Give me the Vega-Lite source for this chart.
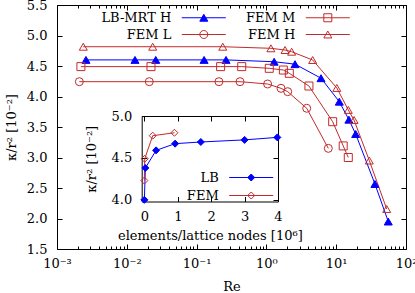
{
  "$schema": "https://vega.github.io/schema/vega-lite/v6.json",
  "width": 349,
  "height": 244,
  "autosize": {"type": "none"},
  "padding": {"left": 57, "top": 5, "right": 9, "bottom": 44},
  "background": "white",
  "config": {
    "view": {"stroke": null},
    "axis": {
      "domainColor": "#000", "tickColor": "#000", "labelColor": "#000", "titleColor": "#000",
      "labelFont": "DejaVu Serif", "labelFontSize": 13, "titleFont": "DejaVu Serif", "titleFontSize": 13,
      "titleFontWeight": "normal", "grid": false, "domainWidth": 1, "tickWidth": 1,
      "labelFlush": false, "labelOverlap": false, "labelBound": false, "tickSize": -5
    },
    "legend": {
      "labelFont": "DejaVu Serif", "labelFontSize": 13, "labelColor": "#000",
      "symbolSize": 64, "symbolStrokeWidth": 1, "padding": 0, "rowPadding": 3,
      "labelAlign": "right", "labelOffset": -39, "labelLimit": 300, "symbolOffset": 0
    }
  },
  "datasets": {
    "main": [
      {"series": "LB-MRT H", "Re": 0.0026, "k": 4.6},
      {"series": "LB-MRT H", "Re": 0.0131, "k": 4.6},
      {"series": "LB-MRT H", "Re": 0.026, "k": 4.6},
      {"series": "LB-MRT H", "Re": 0.128, "k": 4.6},
      {"series": "LB-MRT H", "Re": 0.264, "k": 4.6},
      {"series": "LB-MRT H", "Re": 1.29, "k": 4.57},
      {"series": "LB-MRT H", "Re": 2.57, "k": 4.53},
      {"series": "LB-MRT H", "Re": 6.06, "k": 4.3},
      {"series": "LB-MRT H", "Re": 11.07, "k": 3.915},
      {"series": "LB-MRT H", "Re": 15.2, "k": 3.62},
      {"series": "LB-MRT H", "Re": 19.0, "k": 3.385},
      {"series": "LB-MRT H", "Re": 35.9, "k": 2.566},
      {"series": "LB-MRT H", "Re": 55.7, "k": 1.95},
      {"series": "FEM H", "Re": 0.00238, "k": 4.816},
      {"series": "FEM H", "Re": 0.0235, "k": 4.816},
      {"series": "FEM H", "Re": 0.237, "k": 4.816},
      {"series": "FEM H", "Re": 1.16, "k": 4.79},
      {"series": "FEM H", "Re": 1.85, "k": 4.762},
      {"series": "FEM H", "Re": 2.3, "k": 4.734},
      {"series": "FEM H", "Re": 4.6, "k": 4.598},
      {"series": "FEM H", "Re": 10.2, "k": 4.14},
      {"series": "FEM H", "Re": 14.9, "k": 3.78},
      {"series": "FEM H", "Re": 18.0, "k": 3.615},
      {"series": "FEM H", "Re": 29.8, "k": 2.95},
      {"series": "FEM H", "Re": 52.9, "k": 2.156},
      {"series": "FEM M", "Re": 0.0022, "k": 4.49},
      {"series": "FEM M", "Re": 0.0222, "k": 4.49},
      {"series": "FEM M", "Re": 0.221, "k": 4.49},
      {"series": "FEM M", "Re": 0.443, "k": 4.49},
      {"series": "FEM M", "Re": 1.1, "k": 4.462},
      {"series": "FEM M", "Re": 1.75, "k": 4.434},
      {"series": "FEM M", "Re": 2.13, "k": 4.38},
      {"series": "FEM M", "Re": 4.07, "k": 4.172},
      {"series": "FEM M", "Re": 8.9, "k": 3.587},
      {"series": "FEM M", "Re": 12.6, "k": 3.19},
      {"series": "FEM M", "Re": 14.9, "k": 3.0},
      {"series": "FEM L", "Re": 0.00209, "k": 4.243},
      {"series": "FEM L", "Re": 0.021, "k": 4.243},
      {"series": "FEM L", "Re": 0.209, "k": 4.243},
      {"series": "FEM L", "Re": 0.419, "k": 4.243},
      {"series": "FEM L", "Re": 1.04, "k": 4.205},
      {"series": "FEM L", "Re": 1.62, "k": 4.134},
      {"series": "FEM L", "Re": 2.02, "k": 4.079},
      {"series": "FEM L", "Re": 3.78, "k": 3.807},
      {"series": "FEM L", "Re": 7.71, "k": 3.15}
    ],
    "inset": [
      {"series": "LB", "n": 0.0, "k": 4.0},
      {"series": "LB", "n": 0.03, "k": 4.38},
      {"series": "LB", "n": 0.35, "k": 4.59},
      {"series": "LB", "n": 0.92, "k": 4.67},
      {"series": "LB", "n": 1.69, "k": 4.69},
      {"series": "LB", "n": 3.0, "k": 4.715},
      {"series": "LB", "n": 3.98, "k": 4.745},
      {"series": "FEM", "n": 0.0, "k": 4.23},
      {"series": "FEM", "n": 0.01, "k": 4.49},
      {"series": "FEM", "n": 0.25, "k": 4.765},
      {"series": "FEM", "n": 0.9, "k": 4.8}
    ]
  },
  "resolve": {"scale": {"x": "independent", "y": "independent"}, "axis": {"x": "independent", "y": "independent"}},
  "layer": [
    {
      "data": {"name": "main"},
      "resolve": {
        "scale": {"color": "independent", "stroke": "independent", "fill": "independent", "shape": "independent"},
        "axis": {"x": "independent", "y": "independent"}
      },
      "layer": [
        {
          "mark": {"type": "line", "strokeWidth": 1},
          "encoding": {
            "x": {"field": "Re", "type": "quantitative", "scale": {"type": "log", "domain": [0.001, 100]},
              "axis": {"orient": "bottom", "values": [0.001, 0.01, 0.1, 1, 10, 100],
                "labelExpr": "['10⁻³','10⁻²','10⁻¹','10⁰','10¹','10²'][round(log(datum.value)/LN10)+3]",
                "labelPadding": 13, "title": "Re", "titlePadding": 10}},
            "y": {"field": "k", "type": "quantitative", "scale": {"domain": [1.5, 5.5], "nice": false, "zero": false},
              "axis": {"orient": "left", "values": [1.5, 2, 2.5, 3, 3.5, 4, 4.5, 5, 5.5], "format": ".1f",
                "labelPadding": 15, "title": "κ/r² [10⁻²]", "titlePadding": 8}},
            "color": {"field": "series", "type": "nominal",
              "scale": {"domain": ["LB-MRT H", "FEM L", "FEM M", "FEM H"], "range": ["#0000ff", "#c22b2b", "#c22b2b", "#c22b2b"]},
              "legend": null}
          }
        },
        {
          "mark": {"type": "point", "size": 64, "strokeWidth": 1, "opacity": 1},
          "encoding": {
            "x": {"field": "Re", "type": "quantitative", "scale": {"type": "log", "domain": [0.001, 100]},
              "axis": {"orient": "bottom", "values": [0.002,0.003,0.004,0.005,0.006,0.007,0.008,0.009,0.02,0.03,0.04,0.05,0.06,0.07,0.08,0.09,0.2,0.3,0.4,0.5,0.6,0.7,0.8,0.9,2,3,4,5,6,7,8,9,20,30,40,50,60,70,80,90],
                "labels": false, "domain": false, "tickSize": -3, "title": null}},
            "y": {"field": "k", "type": "quantitative", "scale": {"domain": [1.5, 5.5], "nice": false, "zero": false}, "axis": null},
            "stroke": {"field": "series", "type": "nominal",
              "scale": {"domain": ["LB-MRT H", "FEM L", "FEM M", "FEM H"], "range": ["#0000ff", "#c22b2b", "#c22b2b", "#c22b2b"]}, "legend": null},
            "fill": {"field": "series", "type": "nominal",
              "scale": {"domain": ["LB-MRT H", "FEM L", "FEM M", "FEM H"], "range": ["#0000ff", "transparent", "transparent", "transparent"]}, "legend": null},
            "shape": {"field": "series", "type": "nominal",
              "scale": {"domain": ["LB-MRT H", "FEM L", "FEM M", "FEM H"], "range": ["triangle-up", "circle", "square", "triangle-up"]}, "legend": null}
          }
        },
        {
          "mark": {"type": "point", "size": 64, "strokeWidth": 1, "opacity": 0},
          "encoding": {
            "x": {"field": "Re", "type": "quantitative", "scale": {"type": "log", "domain": [0.001, 100]},
              "axis": {"orient": "top", "values": [0.001, 0.01, 0.1, 1, 10, 100], "labels": false, "title": null}},
            "y": {"field": "k", "type": "quantitative", "scale": {"domain": [1.5, 5.5], "nice": false, "zero": false},
              "axis": {"orient": "right", "values": [1.5, 2, 2.5, 3, 3.5, 4, 4.5, 5, 5.5], "labels": false, "title": null}},
            "stroke": {"field": "series", "type": "nominal",
              "scale": {"domain": ["LB-MRT H", "FEM L", "FEM M", "FEM H"], "range": ["#0000ff", "#c22b2b", "#c22b2b", "#c22b2b"]},
              "legend": {"title": null, "orient": "none", "legendX": 140.3, "legendY": 6, "columns": 2, "columnPadding": -7, "symbolOpacity": 1}},
            "fill": {"field": "series", "type": "nominal",
              "scale": {"domain": ["LB-MRT H", "FEM L", "FEM M", "FEM H"], "range": ["#0000ff", "transparent", "transparent", "transparent"]},
              "legend": {"title": null, "orient": "none", "legendX": 140.3, "legendY": 6, "columns": 2, "columnPadding": -7, "symbolOpacity": 1}},
            "shape": {"field": "series", "type": "nominal",
              "scale": {"domain": ["LB-MRT H", "FEM L", "FEM M", "FEM H"],
                "range": ["M-26,0M-5.5,0H5.5M0,-0.866L1,0.866L-1,0.866Z", "M-26,0M-5.5,0H5.5M1,0A1,1,0,0,1,0,1A1,1,0,0,1,-1,0A1,1,0,0,1,0,-1A1,1,0,0,1,1,0Z", "M-26,0M-5.5,0H5.5M-1,-1H1V1H-1Z", "M-26,0M-5.5,0H5.5M0,-0.866L1,0.866L-1,0.866Z"]},
              "legend": {"title": null, "orient": "none", "legendX": 140.3, "legendY": 6, "columns": 2, "columnPadding": -7, "symbolOpacity": 1}}
          }
        },
        {
          "mark": {"type": "point", "opacity": 0},
          "encoding": {
            "x": {"field": "Re", "type": "quantitative", "scale": {"type": "log", "domain": [0.001, 100]},
              "axis": {"orient": "top", "values": [0.002,0.003,0.004,0.005,0.006,0.007,0.008,0.009,0.02,0.03,0.04,0.05,0.06,0.07,0.08,0.09,0.2,0.3,0.4,0.5,0.6,0.7,0.8,0.9,2,3,4,5,6,7,8,9,20,30,40,50,60,70,80,90],
                "labels": false, "domain": false, "tickSize": -3, "title": null}},
            "y": {"field": "k", "type": "quantitative", "scale": {"domain": [1.5, 5.5], "nice": false, "zero": false}, "axis": null}
          }
        }
      ]
    },
    {
      "data": {"name": "inset"},
      "resolve": {
        "scale": {"color": "independent", "stroke": "independent", "fill": "independent", "shape": "independent"},
        "axis": {"x": "independent", "y": "independent"}
      },
      "layer": [
        {
          "mark": {"type": "line", "strokeWidth": 1},
          "encoding": {
            "x": {"field": "n", "type": "quantitative", "scale": {"domain": [-0.08, 4], "range": [84.7, 221], "nice": false, "zero": false},
              "axis": {"orient": "bottom", "offset": -47.5, "values": [0, 1, 2, 3, 4], "format": "d",
                "labelPadding": 14, "title": "elements/lattice nodes [10⁶]", "titlePadding": 6}},
            "y": {"field": "k", "type": "quantitative", "scale": {"domain": [3.98, 5.0], "range": [196.5, 111], "nice": false, "zero": false},
              "axis": {"orient": "left", "offset": -84.7, "values": [4, 4.5, 5], "format": ".1f",
                "labelPadding": 15, "title": "κ/r² [10⁻²]", "titlePadding": 13}},
            "color": {"field": "series", "type": "nominal",
              "scale": {"domain": ["LB", "FEM"], "range": ["#0000ff", "#c22b2b"]}, "legend": null}
          }
        },
        {
          "mark": {"type": "point", "size": 49, "strokeWidth": 1, "opacity": 1},
          "encoding": {
            "x": {"field": "n", "type": "quantitative", "scale": {"domain": [-0.08, 4], "range": [84.7, 221], "nice": false, "zero": false},
              "axis": {"orient": "top", "offset": -111, "values": [0, 1, 2, 3, 4], "labels": false, "title": null}},
            "y": {"field": "k", "type": "quantitative", "scale": {"domain": [3.98, 5.0], "range": [196.5, 111], "nice": false, "zero": false},
              "axis": {"orient": "right", "offset": -128, "values": [4, 4.5, 5], "labels": false, "title": null}},
            "stroke": {"field": "series", "type": "nominal",
              "scale": {"domain": ["LB", "FEM"], "range": ["#0000ff", "#c22b2b"]}, "legend": null},
            "fill": {"field": "series", "type": "nominal",
              "scale": {"domain": ["LB", "FEM"], "range": ["#0000ff", "transparent"]}, "legend": null},
            "shape": {"field": "series", "type": "nominal",
              "scale": {"domain": ["LB", "FEM"], "range": ["diamond", "diamond"]}, "legend": null}
          }
        },
        {
          "mark": {"type": "point", "size": 64, "strokeWidth": 1, "opacity": 0},
          "encoding": {
            "x": {"field": "n", "type": "quantitative", "scale": {"domain": [-0.08, 4], "range": [84.7, 221], "nice": false, "zero": false}, "axis": null},
            "y": {"field": "k", "type": "quantitative", "scale": {"domain": [3.98, 5.0], "range": [196.5, 111], "nice": false, "zero": false}, "axis": null},
            "stroke": {"field": "series", "type": "nominal",
              "scale": {"domain": ["LB", "FEM"], "range": ["#0000ff", "#c22b2b"]},
              "legend": {"title": null, "orient": "none", "legendX": 187.7, "legendY": 166, "columns": 1, "rowPadding": 4, "symbolOpacity": 1}},
            "fill": {"field": "series", "type": "nominal",
              "scale": {"domain": ["LB", "FEM"], "range": ["#0000ff", "transparent"]},
              "legend": {"title": null, "orient": "none", "legendX": 187.7, "legendY": 166, "columns": 1, "rowPadding": 4, "symbolOpacity": 1}},
            "shape": {"field": "series", "type": "nominal",
              "scale": {"domain": ["LB", "FEM"], "range": ["M-26,0M-5.5,0H5.5M0,-0.875L0.875,0L0,0.875L-0.875,0Z", "M-26,0M-5.5,0H5.5M0,-0.875L0.875,0L0,0.875L-0.875,0Z"]},
              "legend": {"title": null, "orient": "none", "legendX": 187.7, "legendY": 166, "columns": 1, "rowPadding": 4, "symbolOpacity": 1}}
          }
        }
      ]
    }
  ]
}
